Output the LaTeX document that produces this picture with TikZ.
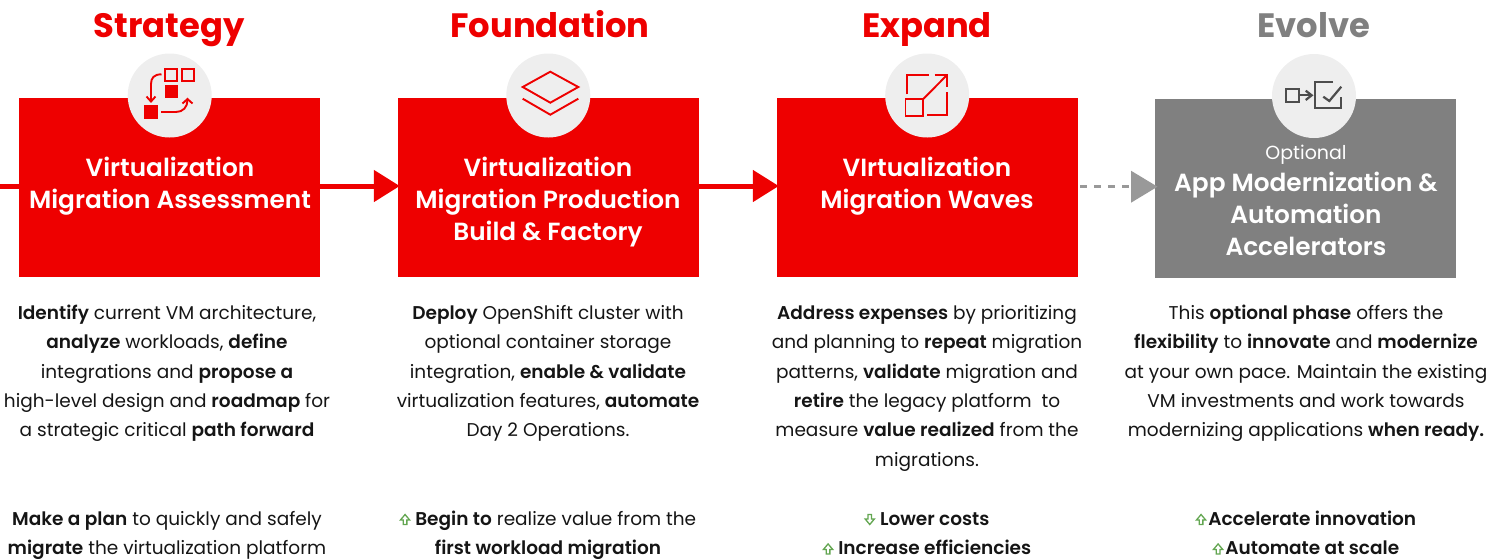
\documentclass[tikz,border=0pt]{standalone}
\usepackage{fontspec}
\setmainfont{Poppins}[BoldFont={Poppins SemiBold}]
\newfontfamily\titlefont{Poppins}[UprightFont={Poppins Bold}]
\usetikzlibrary{arrows.meta}
\definecolor{rhred}{HTML}{EE0000}
\definecolor{boxgray}{HTML}{808080}
\definecolor{arrowgray}{HTML}{999999}
\definecolor{disc}{HTML}{EEEEEE}
\definecolor{ink}{HTML}{151515}
\definecolor{upgreen}{HTML}{63A651}
\definecolor{icongray}{HTML}{4D4D4D}
\newcommand{\upar}{\tikz[baseline=0pt,x=1pt,y=1pt]\draw[upgreen,line width=1.3pt,line join=miter] (3.2,0.7) -- (6.8,0.7) -- (6.8,5.2) -- (9.6,5.2) -- (5,10.7) -- (0.4,5.2) -- (3.2,5.2) -- cycle;}
\newcommand{\downar}{\tikz[baseline=0pt,x=1pt,y=1pt]\draw[upgreen,line width=1.3pt,line join=miter] (3.2,10.7) -- (6.8,10.7) -- (6.8,6.2) -- (9.6,6.2) -- (5,0.7) -- (0.4,6.2) -- (3.2,6.2) -- cycle;}
\newcommand{\fl}{\rule{0pt}{18pt}}
\newcommand{\flb}{\rule{0pt}{24pt}}
\tikzset{
  x=1pt,y=-1pt,
  phasebox/.style={draw=none,fill=rhred,minimum width=301pt,minimum height=179pt,inner sep=0pt},
  grayphase/.style={phasebox,fill=boxgray},
  disc node/.style={circle,fill=disc,minimum size=84pt,inner sep=0pt},
  title/.style={font=\titlefont\fontsize{33.8}{33.8}\selectfont,text=rhred,inner sep=0pt,anchor=base},
  boxlabel/.style={font=\bfseries\fontsize{24.8}{32}\selectfont,text=white,align=center,inner sep=0pt,anchor=north},
  body/.style={font=\fontsize{18.5}{29.4}\selectfont,text=ink,align=center,inner sep=0pt,anchor=north},
  flow/.style={draw=rhred,line width=5pt,-{Triangle[length=26pt,width=31pt]},shorten >=-2pt},
  optflow/.style={draw=arrowgray,line width=2.5pt,dash pattern=on 7pt off 7pt},
  opttip/.style={fill=arrowgray,draw=none},
  iconline/.style={draw=rhred,line width=1.9pt},
  iconfill/.style={fill=rhred,draw=none},
  grayline/.style={draw=icongray,line width=2.2pt},
}
\begin{document}
\begin{tikzpicture}
\useasboundingbox (0,0) rectangle (1489,558);
\clip (0,0) rectangle (1489,558);
% boxes
\node[phasebox] (box1) at (169.5,187.5) {};
\node[phasebox] (box2) at (548.5,187.5) {};
\node[phasebox] (box3) at (927.5,187.5) {};
\node[grayphase] (box4) at (1305.5,188.5) {};
% connectors
\coordinate (start) at (0,186);
\draw[draw=rhred,line width=5pt] (start) -- ([yshift=1.5pt]box1.west);
\draw[flow] ([yshift=1.5pt]box1.east) -- ([yshift=1.5pt]box2.west);
\draw[flow] ([yshift=1.5pt]box2.east) -- ([yshift=1.5pt]box3.west);
\coordinate (tipbase) at (1131,186.7);
\coordinate (tipup) at (1131,170.7);
\coordinate (tipdn) at (1131,202.7);
\coordinate (tipend) at (1157.5,186.7);
\draw[optflow] ([xshift=2pt,yshift=0.8pt]box3.east) -- (tipbase);
\fill[opttip] (tipup) -- (tipend) -- (tipdn) -- cycle;
% discs
\node[disc node] (d1) at (169.7,95.5) {};
\node[disc node] (d2) at (548.3,95.5) {};
\node[disc node] (d3) at (927.2,95.5) {};
\node[disc node] (d4) at (1314,96) {};
% icon 1
\draw[iconline] (165.3,68.7) rectangle (177.3,80.7);
\draw[iconline] (182,68.7) rectangle (194,80.7);
\fill[iconfill] (164.7,85) rectangle (178,98);
\fill[iconfill] (144.3,105.3) rectangle (157.7,118.7);
\draw[iconline] (161.5,74.3) .. controls (154,74.3) and (151,78) .. (151,84) -- (151,100);
\draw[iconline] (146.5,96.5) -- (151,101.5) -- (155.5,96.5);
\draw[iconline] (161,112) -- (176,112) .. controls (183,112) and (187.5,107) .. (187.5,100);
\draw[iconline] (182.5,103.5) -- (187.5,99) -- (192.5,103.5);
% icon 2
\draw[iconline] (550.3,71.7) -- (578.3,87) -- (550.3,102.7) -- (522.7,87) -- cycle;
\draw[iconline] (522.7,98.7) -- (550.3,114.7) -- (578.3,98.7);
% icon 3
\draw[iconline] (907,94.3) -- (907,75.3) -- (929.3,75.3);
\draw[iconline] (934.7,75.3) -- (946.7,75.3) -- (946.7,87.3);
\draw[iconline] (923.3,99) -- (946.7,75.3);
\draw[iconline] (946.7,92.3) -- (946.7,114.7) -- (927,114.7);
\draw[iconline] (905.5,99) rectangle (923.3,116.3);
% icon 4
\draw[grayline] (1285.7,88.7) rectangle (1299,102);
\draw[grayline] (1299,95.3) -- (1311,95.3);
\draw[grayline] (1305.7,90.7) -- (1311.7,95.3) -- (1305.7,100);
\draw[grayline] (1333,82) -- (1315,82) -- (1315,108) -- (1341,108) -- (1341,96.7);
\draw[grayline] (1323.3,96.7) -- (1329.3,101) -- (1341.3,86.7);
% titles
\node[title] (t1) at (169,37) {Strategy};
\node[title] (t2) at (550,37) {Foundation};
\node[title] (t3) at (927,37) {Expand};
\node[title,text=boxgray] (t4) at (1314,37) {Evolve};
% box labels
\node[boxlabel] (l1) at (170,152) {\flb Virtualization\\Migration Assessment};
\node[boxlabel] (l2) at (548,152) {\flb Virtualization\\Migration Production\\Build \& Factory};
\node[boxlabel] (l3) at (927,152) {\flb VIrtualization\\Migration Waves};
\node[font=\fontsize{19}{19}\selectfont,text=white,inner sep=0pt] (l4a) at (1306,155) {Optional};
\node[boxlabel] (l4) at (1306,167) {\flb App Modernization \&\\Automation\\Accelerators};
% body
\node[body] (b1) at (167,301) {\fl\textbf{Identify} current VM architecture,\\\textbf{analyze} workloads, \textbf{define}\\integrations and \textbf{propose a}\\high-level design and \textbf{roadmap} for\\a strategic critical \textbf{path forward}};
\node[body] (b2) at (548,301) {\fl\textbf{Deploy} OpenShift cluster with\\optional container storage\\integration, \textbf{enable \& validate}\\virtualization features, \textbf{automate}\\Day 2 Operations.};
\node[body] (b3) at (927,301) {\fl\textbf{Address expenses} by prioritizing\\and planning to \textbf{repeat} migration\\patterns, \textbf{validate} migration and\\\textbf{retire} the legacy platform~ to\\measure \textbf{value realized} from the\\migrations.};
\node[body] (b4) at (1306,301) {\fl This \textbf{optional phase} offers the\\\textbf{flexibility} to \textbf{innovate} and \textbf{modernize}\\at your own pace. Maintain the existing\\VM investments and work towards\\modernizing applications \textbf{when ready.}};
% outcomes
\node[body] (o1) at (167,507) {\fl\textbf{Make a plan} to quickly and safely\\\textbf{migrate} the virtualization platform};
\node[body] (o2) at (548,507) {\fl\upar\hspace{5pt}\textbf{Begin to} realize value from the\\\textbf{first workload migration}};
\node[body] (o3) at (927,507) {\fl\downar\hspace{5pt}\textbf{Lower costs}\\\upar\hspace{5pt}\textbf{Increase efficiencies}};
\node[body] (o4) at (1306,507) {\fl\upar\hspace{2pt}\textbf{Accelerate innovation}\\\upar\hspace{2pt}\textbf{Automate at scale}};
\end{tikzpicture}
\end{document}
